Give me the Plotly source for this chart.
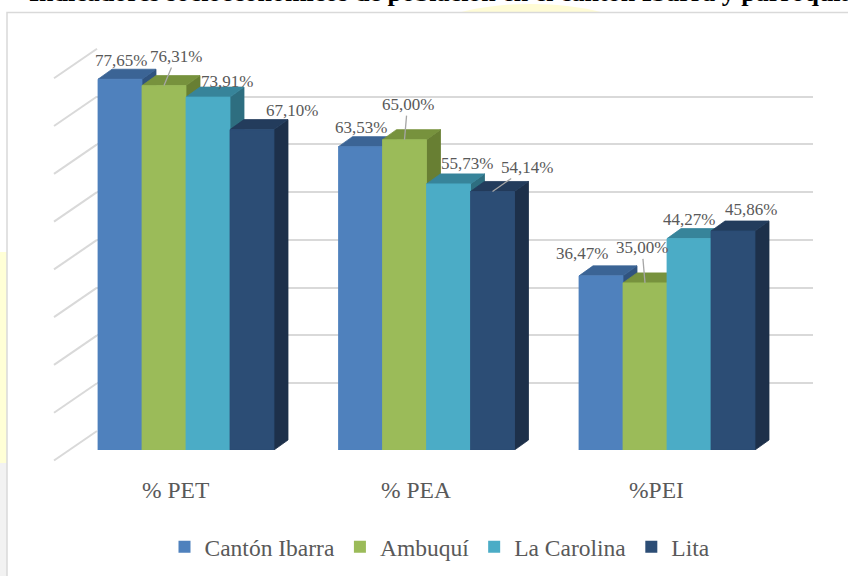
import plotly.graph_objects as go

# ---------------- data ----------------
categories = ["% PET", "% PEA", "%PEI"]
series_names = ["Cantón Ibarra", "Ambuquí", "La Carolina", "Lita"]
canton_ibarra = [77.65, 63.53, 36.47]
ambuqui = [76.31, 65.00, 35.00]
la_carolina = [73.91, 55.73, 44.27]
lita = [67.10, 54.14, 45.86]
series_values = [canton_ibarra, ambuqui, la_carolina, lita]
axis_max = 80
axis_step = 10
title_text = "Indicadores socioeconómicos de población en el cantón Ibarra y parroquias"

# ---------------- styles ----------------
W_PX, H_PX = 848, 576
FRONT = ["#4F81BD", "#9BBB59", "#4BACC6", "#2C4D75"]
TOP = ["#3B6495", "#77923D", "#37849A", "#233C5C"]
SIDE = ["#30537F", "#687F33", "#2E6E80", "#1D304A"]
TXT = "#595959"
GRID = "#D9D9D9"
FONT = "Liberation Serif"

# label offsets in pixels: (mode, dx, dy) ; mode 'shift' = plain label, 'arrow' = leader line
LABEL_OFFSETS = [
    [("shift", 1, 19), ("arrow", 12, -29), ("shift", 19, 16), ("shift", 40, 19.5)],
    [("shift", 0, 19), ("arrow", 3, -35), ("shift", 18.5, 20), ("arrow", 34.5, -24)],
    [("shift", -19, 22), ("arrow", -3, -35), ("shift", 0, 19.6), ("shift", 18, 21.5)],
]


def px(x):
    return x / W_PX


def py(y):
    return 1 - y / H_PX


# geometry of the front (bar) plane, in pixels
group_pitch = 240.5
front_left = 65.75
front_zero = 450.0
unit_px = 4.775          # pixels per percentage point
bar_w = 44 / group_pitch  # in category units
depth_x = 14 / group_pitch
depth_y = 10 / unit_px

# back wall geometry
wall_left, wall_right = 97, 813
wall_zero = 431.0
wall_unit = 4.778
diag_left, diag_drop = 54, 29.5

fig = go.Figure()

# invisible trace that creates the back-wall subplot (x / y)
fig.add_trace(go.Scatter(x=[0], y=[0], xaxis="x", yaxis="y", mode="markers",
                         marker=dict(opacity=0), showlegend=False, hoverinfo="skip"))

n_series = len(series_names)
group_w = n_series * bar_w
for c in range(len(categories)):
    for s in range(n_series):
        v = series_values[s][c]
        x0 = c - group_w / 2 + s * bar_w
        x1 = x0 + bar_w
        polys = [
            (SIDE[s], [x1, x1 + depth_x, x1 + depth_x, x1, x1], [0, depth_y, v + depth_y, v, 0]),
            (TOP[s], [x0, x0 + depth_x, x1 + depth_x, x1, x0], [v, v + depth_y, v + depth_y, v, v]),
            (FRONT[s], [x0, x1, x1, x0, x0], [0, 0, v, v, 0]),
        ]
        for col, xs, ys in polys:
            fig.add_trace(go.Scatter(x=xs, y=ys, xaxis="x2", yaxis="y2", mode="lines",
                                     fill="toself", fillcolor=col,
                                     line=dict(color=col, width=0.8),
                                     showlegend=False, hoverinfo="skip"))

# legend entries
for s in range(n_series):
    fig.add_trace(go.Scatter(x=[None], y=[None], xaxis="x2", yaxis="y2", mode="markers",
                             marker=dict(symbol="square", size=12, color=FRONT[s]),
                             name=series_names[s]))

annotations = []
# data labels
for c in range(len(categories)):
    for s in range(n_series):
        v = series_values[s][c]
        xc = c - group_w / 2 + (s + 0.5) * bar_w
        txt = f"{v:.2f}%".replace(".", ",")
        mode, dx, dy = LABEL_OFFSETS[c][s]
        base = dict(x=xc, y=v, xref="x2", yref="y2", text=txt,
                    font=dict(family=FONT, size=17, color=TXT))
        if mode == "shift":
            base.update(showarrow=False, xshift=dx, yshift=dy)
        else:
            base.update(showarrow=True, ax=dx, ay=dy, arrowhead=0, arrowwidth=1.3,
                        arrowcolor="#A6A6A6", standoff=0, startstandoff=0)
        annotations.append(base)

# category labels
for c, cat in enumerate(categories):
    annotations.append(dict(x=c, y=py(490), xref="x2", yref="paper", text=cat,
                            showarrow=False, xshift=-11, yanchor="middle",
                            font=dict(family=FONT, size=23.5, color=TXT)))

# cropped document title above the chart
annotations.append(dict(x=px(27), y=py(9), xref="paper", yref="paper", text="<b>" + title_text + "</b>",
                        showarrow=False, xanchor="left", yanchor="bottom",
                        font=dict(family=FONT, size=26, color="#000000")))

shapes = [
    # page highlight marks
    dict(type="circle", xref="paper", yref="paper", x0=px(431), x1=px(631), y0=py(60), y1=py(4),
         fillcolor="#FFFCD6", line=dict(width=0), layer="below"),
    dict(type="rect", xref="paper", yref="paper", x0=px(0), x1=px(7), y0=py(463), y1=py(252),
         fillcolor="#FFFFD6", line=dict(width=0), layer="below"),
    dict(type="rect", xref="paper", yref="paper", x0=px(0), x1=px(7), y0=py(590), y1=py(463),
         fillcolor="#F2F2F2", line=dict(width=0), layer="below"),
    # chart area
    dict(type="rect", xref="paper", yref="paper", x0=px(7), x1=px(900), y0=py(620), y1=py(12.5),
         fillcolor="#FFFFFF", line=dict(color=GRID, width=1.5), layer="below"),
]
# side-wall diagonals at each gridline level
for k in range(0, axis_max + 1, axis_step):
    yw = wall_zero - k * wall_unit
    shapes.append(dict(type="line", xref="paper", yref="paper",
                       x0=px(diag_left), y0=py(yw + diag_drop), x1=px(wall_left), y1=py(yw),
                       line=dict(color=GRID, width=2), layer="below"))

fig.update_layout(
    width=W_PX, height=H_PX,
    margin=dict(l=0, r=0, t=0, b=0),
    paper_bgcolor="#FFFFFF",
    plot_bgcolor="rgba(0,0,0,0)",
    showlegend=True,
    legend=dict(orientation="h", x=px(440), xanchor="center", y=py(547), yanchor="middle",
                font=dict(family=FONT, size=23.5, color=TXT), bgcolor="rgba(0,0,0,0)",
                itemwidth=30),
    xaxis=dict(domain=[px(wall_left), px(wall_right)], range=[0, 1], visible=False),
    yaxis=dict(domain=[py(wall_zero), py(wall_zero - axis_max * wall_unit)],
               range=[-0.01, axis_max + 0.01], dtick=axis_step, tick0=0,
               showgrid=True, gridcolor=GRID, gridwidth=2, zeroline=False,
               showticklabels=False, showline=False, ticks=""),
    xaxis2=dict(domain=[px(front_left), px(front_left + 3 * group_pitch)], range=[-0.5, 2.5],
                visible=False, anchor="y2"),
    yaxis2=dict(domain=[py(front_zero), py(front_zero - axis_max * unit_px)],
                range=[0, axis_max], visible=False, anchor="x2"),
    annotations=annotations,
    shapes=shapes,
)

fig.write_html("out.html", config={"displayModeBar": False},
               post_script="document.body.style.margin='0';document.body.style.overflow='hidden';")
